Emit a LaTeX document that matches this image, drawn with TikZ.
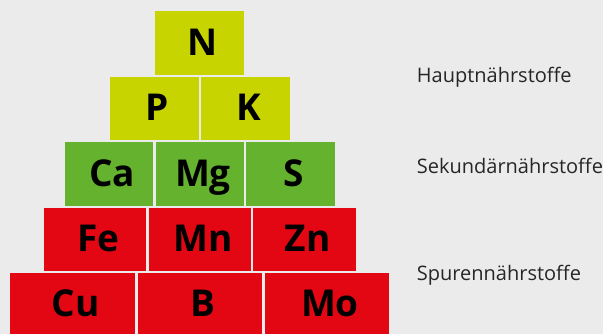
\documentclass[tikz,border=0pt]{standalone}
\usepackage{fontspec}
\setmainfont{Open Sans}
\definecolor{bg}{HTML}{EBEBEB}
\definecolor{lime}{HTML}{C8D400}
\definecolor{leaf}{HTML}{64B22E}
\definecolor{brickred}{HTML}{E30613}
\tikzset{
  el/.style={anchor=base,inner sep=0pt,font=\fontsize{37}{40}\selectfont\bfseries,text=black},
  grp/.style={anchor=base west,inner sep=0pt,font=\fontsize{20}{22}\selectfont,text=black!85},
}
\newcommand\brick[7]{%
  \fill[#6] (#2,#3) rectangle (#4,#5);
  \node[el] (#1) at ({(#2+#4)/2+3},{#5-19.5}) {#7};}
\begin{document}
\begin{tikzpicture}[x=1pt,y=-1pt]
\fill[bg] (0,0) rectangle (603,334);
\useasboundingbox (0,0) rectangle (603,334);
\brick{n}{155.3}{11}{244.3}{74.7}{lime}{N}
\brick{p}{110}{76.7}{199}{140}{lime}{P}
\brick{k}{201}{76.7}{289.7}{140}{lime}{K}
\brick{ca}{64.7}{142.3}{153.3}{205.7}{leaf}{Ca}
\brick{mg}{155.7}{142.3}{244.3}{205.7}{leaf}{Mg}
\brick{s}{246}{142.3}{335}{205.7}{leaf}{S}
\brick{fe}{44}{207.7}{146.3}{270.7}{brickred}{Fe}
\brick{mn}{149}{207.7}{251}{270.7}{brickred}{Mn}
\brick{zn}{253.3}{207.7}{355.7}{270.7}{brickred}{Zn}
\brick{cu}{10}{272.7}{135}{335.7}{brickred}{Cu}
\brick{b}{137.7}{272.7}{262.3}{335.7}{brickred}{B}
\brick{mo}{264.7}{272.7}{389.3}{335.7}{brickred}{Mo}
\node[grp] (haupt) at (416.7,82.7) {Hauptnährstoffe};
\node[grp] (sek) at (416.7,173.3) {Sekundärnährstoffe};
\node[grp] (spur) at (416.7,280.7) {Spurennährstoffe};
\end{tikzpicture}
\end{document}
